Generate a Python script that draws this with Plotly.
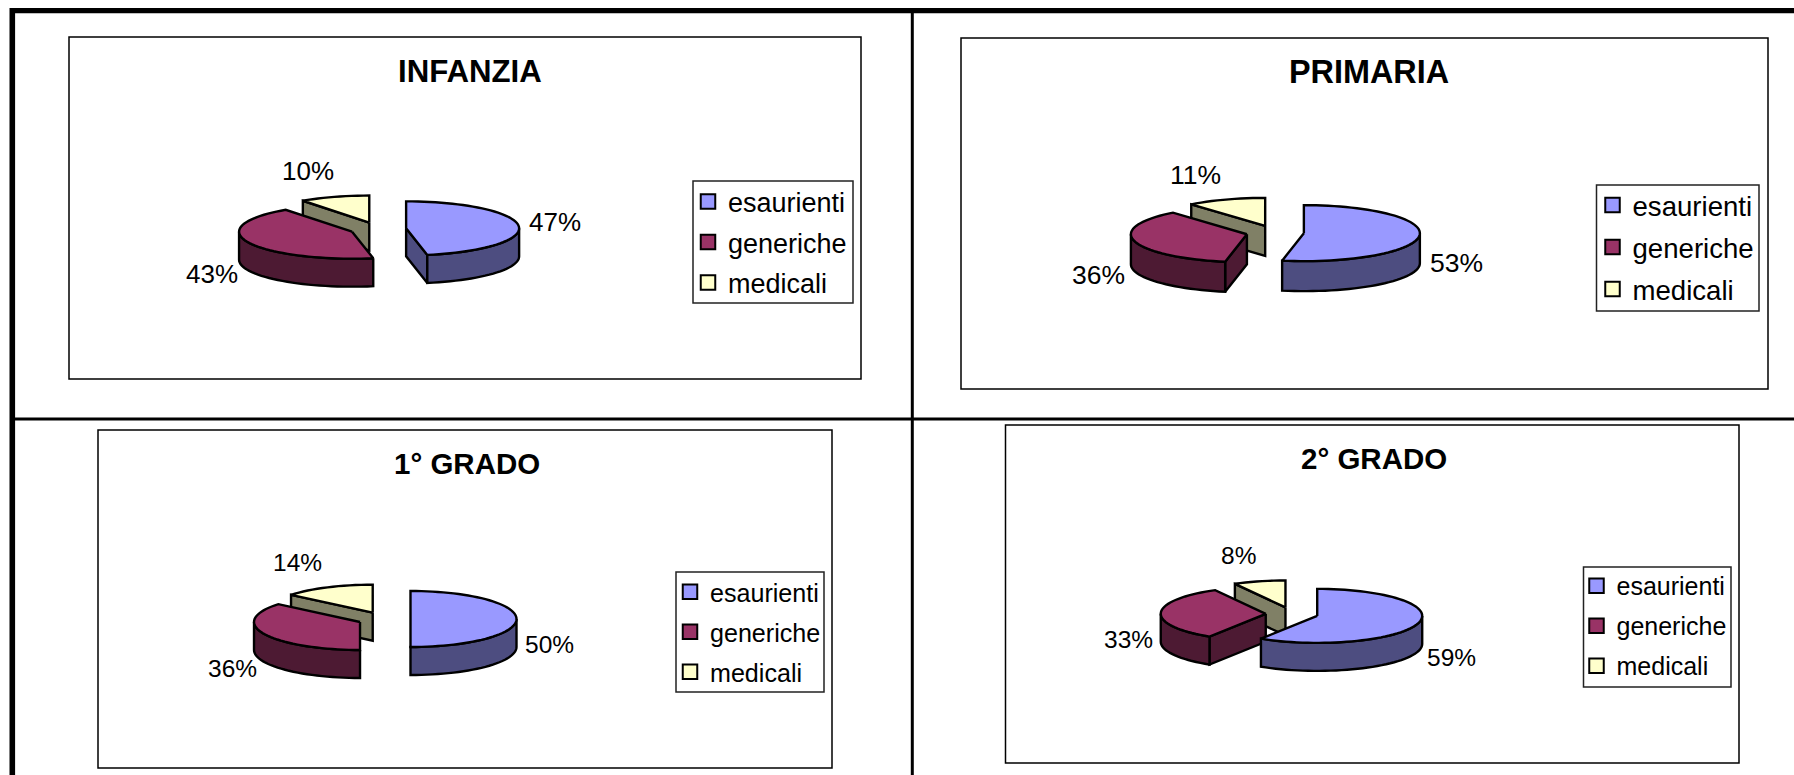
import math
import plotly.graph_objects as go

categories = ["esaurienti", "generiche", "medicali"]
titles = ["INFANZIA", "PRIMARIA", "1° GRADO", "2° GRADO"]
infanzia = [47, 43, 10]
primaria = [53, 36, 11]
primo_grado = [50, 36, 14]
secondo_grado = [59, 33, 8]
series = [infanzia, primaria, primo_grado, secondo_grado]

TOP = ["#9999FF", "#993366", "#FFFFCC"]
WALL = ["#4D4D80", "#4D1A33", "#808066"]
FONT = "Liberation Sans"
W, H = 1794, 775

panels = [
    dict(box=(69, 37, 861, 379), c=(378, 229), rx=113, ry=27, d=28, title=(470, 71, 31.2),
         legbox=(693, 181, 853, 303), rows=(204, 40.5), legx=-5, lfs=27, fs=26,
         lab=[(555, 222), (212, 274), (308, 171)]),
    dict(box=(961, 38, 1768, 389), c=(1275, 232.5), rx=116, ry=28, d=30, title=(1368.5, 72, 32.4),
         legbox=(1596.5, 185, 1759, 311), rows=(207, 42), legx=-4, lfs=27.6, fs=26.5,
         lab=[(1456.5, 263), (1098, 275), (1195, 175)]),
    dict(box=(98, 430, 832, 768), c=(384, 619), rx=106, ry=28, d=28, title=(466.5, 463.5, 29.5),
         legbox=(676, 572, 824, 692), rows=(595.4, 40), legx=-6, lfs=25.1, fs=24.5,
         lab=[(549, 644), (232.5, 668), (297, 562)]),
    dict(box=(1005.5, 425, 1739, 763), c=(1292, 614), rx=105, ry=27, d=28, title=(1374, 458, 29.5),
         legbox=(1583.5, 567, 1731, 687), rows=(589.4, 40), legx=-7, lfs=25, fs=24.5,
         lab=[(1451, 657), (1128, 639), (1238.5, 555)]),
]
EXPLODE = 0.25


def arc(cx, cy, rx, ry, a, b, step=3.0):
    n = max(1, int(abs(b - a) / step))
    pts = []
    for i in range(n + 1):
        t = math.radians(a + (b - a) * i / n)
        pts.append((cx + rx * math.sin(t), cy - ry * math.cos(t)))
    return pts


def poly(fig, pts, fill):
    xs = [p[0] for p in pts] + [pts[0][0]]
    ys = [p[1] for p in pts] + [pts[0][1]]
    fig.add_trace(go.Scatter(x=xs, y=ys, mode="lines", fill="toself", fillcolor=fill,
                             line=dict(color="black", width=2.4, simplify=False),
                             showlegend=False, hoverinfo="skip"))


fig = go.Figure()
shapes = []
annotations = []
layout_legends = {}

# outer table frame
for x0, y0, x1, y1, w in [(10, 10.7, W, 10.7, 5.3), (12.3, 8, 12.3, H, 5.6),
                          (912.3, 10, 912.3, H, 3), (12, 419, W, 419, 3)]:
    shapes.append(dict(type="line", xref="x", yref="y", x0=x0, y0=y0, x1=x1, y1=y1,
                       line=dict(color="black", width=w), layer="below"))

for idx, (p, vals) in enumerate(zip(panels, series)):
    x0, y0, x1, y1 = p["box"]
    shapes.append(dict(type="rect", xref="x", yref="y", x0=x0, y0=y0, x1=x1, y1=y1,
                       fillcolor="white", line=dict(color="black", width=1.5), layer="below"))
    lb = p["legbox"]
    shapes.append(dict(type="rect", xref="x", yref="y", x0=lb[0], y0=lb[1], x1=lb[2], y1=lb[3],
                       fillcolor="white", line=dict(color="#222222", width=1.5), layer="below"))
    tx, ty, ts = p["title"]
    annotations.append(dict(x=tx, y=ty, xref="x", yref="y", text=f"<b>{titles[idx]}</b>",
                            showarrow=False, font=dict(family=FONT, size=ts, color="black")))

    total = sum(vals)
    angles = []
    a = 0.0
    for v in vals:
        b = a + 360.0 * v / total
        angles.append((a, b))
        a = b

    for k in (2, 1, 0):
        a, b = angles[k]
        mid = math.radians((a + b) / 2)
        cx = p["c"][0] + EXPLODE * p["rx"] * math.sin(mid)
        cy = p["c"][1] - EXPLODE * p["ry"] * math.cos(mid)
        rx, ry, d = p["rx"], p["ry"], p["d"]
        rim = arc(cx, cy, rx, ry, a, b)
        apex = (cx, cy)
        # cut faces that look towards the viewer
        for u, v_ in [(apex, rim[0]), (rim[-1], apex)]:
            if v_[0] - u[0] < -0.01:
                poly(fig, [u, v_, (v_[0], v_[1] + d), (u[0], u[1] + d)], WALL[k])
        # outer rim wall
        lo, hi = max(a, 90.0), min(b, 270.0)
        if lo < hi:
            front = arc(cx, cy, rx, ry, lo, hi)
            poly(fig, front + [(q[0], q[1] + d) for q in reversed(front)], WALL[k])
        poly(fig, [apex] + rim, TOP[k])
        lx, ly = p["lab"][k]
        annotations.append(dict(x=lx, y=ly, xref="x", yref="y", text=f"{vals[k]}%",
                                showarrow=False, font=dict(family=FONT, size=p["fs"], color="black")))

    name = "legend" if idx == 0 else f"legend{idx + 1}"
    for k, cat in enumerate(categories):
        fig.add_trace(go.Scatter(x=[None], y=[None], mode="markers", name=cat, legend=name,
                                 legendgroup=f"{idx}-{k}",
                                 marker=dict(symbol="square", size=14.5, color=TOP[k],
                                             line=dict(color="black", width=2))))
    row1, spacing = p["rows"]
    fs = p["lfs"]
    gap = spacing - 1.3 * fs - 3
    layout_legends[name] = dict(x=(lb[0] + p["legx"]) / W, y=1 - (row1 - 26.5) / H,
                                xanchor="left", yanchor="top",
                                bgcolor="rgba(0,0,0,0)", borderwidth=0,
                                font=dict(family=FONT, size=fs, color="black"),
                                itemclick=False, itemdoubleclick=False,
                                traceorder="grouped", tracegroupgap=gap,
                                itemwidth=30)

fig.update_layout(
    width=W, height=H, autosize=False,
    margin=dict(l=0, r=0, t=0, b=0),
    paper_bgcolor="white", plot_bgcolor="white",
    xaxis=dict(range=[0, W], visible=False, fixedrange=True),
    yaxis=dict(range=[H, 0], visible=False, fixedrange=True),
    shapes=shapes, annotations=annotations,
    hovermode=False,
    **layout_legends,
)
fig.write_html("out.html", config={"displayModeBar": False},
               post_script="document.body.style.margin='0';")
